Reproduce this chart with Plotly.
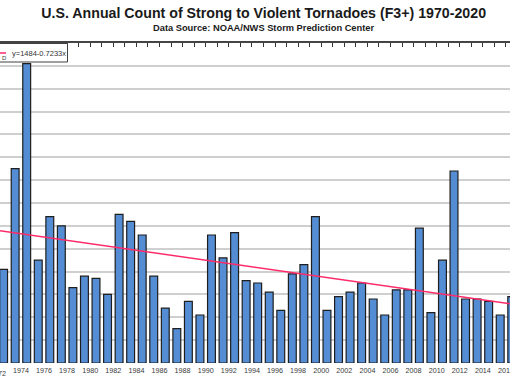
import plotly.graph_objects as go

# ---- data ----
years = list(range(1972, 2017))
counts = [41, 85, 131, 45, 64, 60, 33, 38, 37, 30,
          65, 62, 56, 38, 24, 15, 27, 21, 56, 46,
          57, 36, 35, 31, 23, 39, 43, 64, 23, 29,
          31, 35, 28, 21, 32, 32, 59, 22, 45, 84,
          28, 28, 27, 21, 29]
tick_labels = [str(y) for y in range(1972, 2017, 2)]
trend_intercept = 1484
trend_slope = -0.7233
trend_years = [1970, 2020]
trend_values = [trend_intercept + trend_slope * y for y in trend_years]
trend_name = "y=1484-0.7233x"

title_text = "U.S. Annual Count of Strong to Violent Tornadoes (F3+) 1970-2020"
subtitle_text = "Data Source: NOAA/NWS Storm Prediction Center"

FONT = "Liberation Sans, Arial, sans-serif"
W, H = 510, 382
M_T, M_B = 43, 19
PH = H - M_T - M_B
TREND_COLOR = "#FF2A68"
x_range = [1971.688, 2015.848]


def px_x(p):
    return p / W


def px_y(p):
    return 1 - (p - M_T) / PH


def year_to_paper(v):
    return (v - x_range[0]) / (x_range[1] - x_range[0])


# category boundaries (ticks) and label positions
boundaries = [y - 0.5 for y in range(1970, 2022)]
label_map = {float(int(t) - 0.5): t for t in tick_labels}
tickvals = boundaries
ticktext = [label_map.get(b, "") for b in boundaries]

# labels whose tick sits just outside the visible range (drawn as text)
edge_labels = [t for t in tick_labels if int(t) - 0.5 < x_range[0]]

fig = go.Figure()
fig.add_trace(go.Bar(
    x=years, y=counts, width=0.68,
    marker=dict(color="#548DD4", line=dict(color="#1e1e1e", width=1.2)),
    showlegend=False,
))
fig.add_trace(go.Scatter(
    x=trend_years, y=trend_values, mode="lines", name=trend_name,
    line=dict(color=TREND_COLOR, width=1.5), xaxis="x2", showlegend=False,
))

annotations = [
    dict(text=f"<b>{subtitle_text}</b>", xref="paper", yref="paper",
         x=px_x(263), y=px_y(27.5), xanchor="center", yanchor="middle",
         showarrow=False, font=dict(size=9.3, color="#1a1a1a", family=FONT)),
    # manual legend text
    dict(text=trend_name, xref="paper", yref="paper",
         x=px_x(9.5), y=px_y(53), xanchor="left", yanchor="middle",
         showarrow=False, font=dict(size=7.5, color="#333333", family=FONT)),
    dict(text="D", xref="paper", yref="paper",
         x=px_x(-0.5), y=px_y(58), xanchor="left", yanchor="middle",
         showarrow=False, font=dict(size=6, color="#333333", family=FONT)),
]
for t in edge_labels:
    annotations.append(dict(
        text=t, xref="paper", yref="paper", x=year_to_paper(int(t) - 0.5),
        y=px_y(373), xanchor="center", yanchor="middle", showarrow=False,
        font=dict(size=7.2, color="#3a3a3a", family=FONT)))

fig.update_layout(
    width=W, height=H,
    margin=dict(l=0, r=0, t=M_T, b=M_B, autoexpand=False),
    paper_bgcolor="white", plot_bgcolor="white",
    font=dict(family=FONT, color="#333333"),
    title=dict(text=f"<b>{title_text}</b>", x=0.517, xanchor="center",
               y=1 - 13.5 / H, yanchor="middle", yref="container",
               font=dict(size=14.2, color="#1a1a1a", family=FONT)),
    annotations=annotations,
    shapes=[
        dict(type="rect", xref="paper", yref="paper", layer="above",
             x0=px_x(-5), x1=px_x(67.5), y0=px_y(62), y1=px_y(43.5),
             fillcolor="white", line=dict(color="#404040", width=1)),
        dict(type="line", xref="paper", yref="paper", layer="above",
             x0=px_x(-2), x1=px_x(6), y0=px_y(53), y1=px_y(53),
             line=dict(color=TREND_COLOR, width=1.5)),
    ],
    xaxis=dict(range=x_range, tickvals=tickvals, ticktext=ticktext,
               showgrid=False, zeroline=False, showline=False, ticks="",
               tickfont=dict(size=7.2, color="#3a3a3a"), ticklabelstandoff=2,
               ticklabeloverflow="allow", automargin=False),
    xaxis2=dict(overlaying="x", matches="x", side="top", anchor="y",
                tickvals=tickvals, showticklabels=False, ticks="inside",
                ticklen=4, tickwidth=1, tickcolor="#333333",
                showline=True, linecolor="#444444", linewidth=1.5,
                showgrid=False, zeroline=False, automargin=False),
    yaxis=dict(range=[0, 140], dtick=10, showgrid=True, gridcolor="#CFCFCF",
               gridwidth=1.5, zeroline=False, showticklabels=False, showline=False,
               automargin=False),
    showlegend=False,
)

fig.write_html("out.html", config={"displayModeBar": False},
               post_script="document.body.style.margin='0';")
